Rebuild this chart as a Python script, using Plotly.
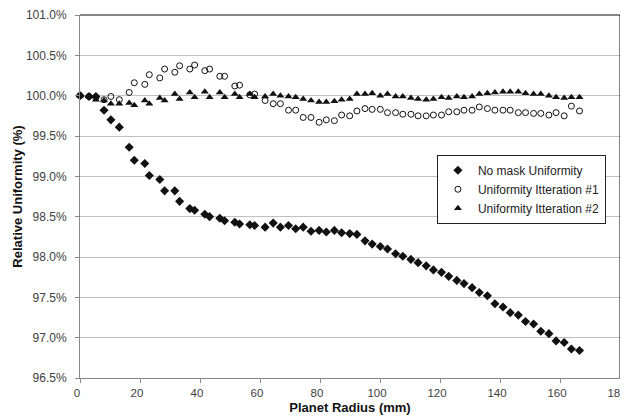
import plotly.graph_objects as go

radius_mm = [0, 3, 5.3, 8, 10.3, 13.1, 16.4, 18.1, 21.6, 23.1, 26.6, 28.2, 31.6, 33.2,
             36.6, 38.2, 41.6, 43.2, 46.6, 48.2, 51.6, 53.2, 56.6, 58.2,
             61.7, 64.4, 66.8, 69.5, 71.9, 74.4, 77.0, 79.7, 82.1, 84.8, 87.2, 89.9,
             92.3, 95.0, 97.4, 100.1, 102.5, 105.2, 107.6, 110.3, 112.7, 115.4, 117.8,
             120.5, 122.9, 125.6, 128.0, 130.7, 133.1, 135.8, 138.3, 141.0, 143.4,
             146.1, 148.5, 151.2, 153.6, 156.3, 158.7, 161.4, 163.8, 166.5]

no_mask = [100.00, 99.99, 99.99, 99.82, 99.70, 99.61, 99.36, 99.20, 99.16, 99.01,
           98.96, 98.82, 98.82, 98.69, 98.60, 98.58, 98.53, 98.50, 98.48, 98.45,
           98.43, 98.41, 98.40, 98.39,
           98.37, 98.42, 98.37, 98.39, 98.35, 98.37, 98.32, 98.33, 98.31, 98.33,
           98.30, 98.29, 98.28, 98.20, 98.16, 98.13, 98.10, 98.04, 98.01, 97.97,
           97.93, 97.89, 97.84, 97.81, 97.76, 97.71, 97.67, 97.62, 97.56, 97.52,
           97.42, 97.38, 97.31, 97.28, 97.20, 97.17, 97.08, 97.05, 96.96, 96.94,
           96.86, 96.84]

iter1 = [100.00, 99.99, 99.98, 99.95, 99.99, 99.95, 100.04, 100.16, 100.14, 100.26,
         100.22, 100.33, 100.29, 100.37, 100.33, 100.38, 100.31, 100.33, 100.24, 100.24,
         100.12, 100.13, 100.01, 100.02,
         99.94, 99.90, 99.90, 99.82, 99.82, 99.73, 99.73, 99.67, 99.70, 99.69,
         99.76, 99.75, 99.81, 99.84, 99.83, 99.83, 99.79, 99.79, 99.77, 99.77,
         99.75, 99.75, 99.76, 99.76, 99.80, 99.80, 99.82, 99.82, 99.86, 99.84,
         99.82, 99.82, 99.82, 99.79, 99.79, 99.78, 99.78, 99.76, 99.79, 99.75,
         99.87, 99.81]

iter2 = [100.00, 99.99, 99.95, 99.94, 99.90, 99.90, 99.91, 99.88, 99.94, 99.90,
         99.97, 99.94, 100.02, 99.96, 100.04, 99.98, 100.05, 99.98, 100.04, 99.98,
         100.02, 99.98, 100.02, 99.98,
         99.99, 100.02, 100.00, 99.99, 99.98, 99.96, 99.94, 99.92, 99.92, 99.93,
         99.95, 99.96, 100.02, 100.02, 100.03, 100.00, 100.02, 99.99, 99.99, 99.97,
         99.96, 99.95, 99.96, 99.98, 99.97, 99.99, 99.98, 99.99, 100.02, 100.03,
         100.04, 100.05, 100.05, 100.05, 100.03, 100.02, 100.02, 100.00, 99.98, 99.97,
         99.98, 99.98]

series_names = ["No mask Uniformity", "Uniformity Itteration #1", "Uniformity Itteration #2"]
y_ticks = [96.5, 97.0, 97.5, 98.0, 98.5, 99.0, 99.5, 100.0, 100.5, 101.0]
x_ticks = [0, 20, 40, 60, 80, 100, 120, 140, 160, 180]

fig = go.Figure()
fig.add_trace(go.Scatter(x=radius_mm, y=no_mask, mode="markers", name=series_names[0],
                         cliponaxis=False,
                         marker=dict(symbol="diamond", size=7, color="#111111")))
fig.add_trace(go.Scatter(x=radius_mm, y=iter1, mode="markers", name=series_names[1],
                         cliponaxis=False,
                         marker=dict(symbol="circle-open", size=6, color="#111111",
                                     line=dict(width=1, color="#111111"))))
fig.add_trace(go.Scatter(x=radius_mm, y=iter2, mode="markers", name=series_names[2],
                         cliponaxis=False,
                         marker=dict(symbol="triangle-up", size=7, color="#111111")))

font_family = "Liberation Sans, Arial, sans-serif"
# the page body has an 8px default margin; the plot area is placed to match the window
fig.update_layout(
    width=628, height=408,
    margin=dict(l=72, r=16, t=7, b=38, autoexpand=False),
    paper_bgcolor="white", plot_bgcolor="white",
    font=dict(family=font_family, size=12, color="#404040"),
    showlegend=True,
    legend=dict(x=0.661, y=0.615, xanchor="left", yanchor="top",
                bgcolor="white", bordercolor="#222222", borderwidth=1,
                font=dict(size=12, color="#222222")),
    xaxis=dict(range=[0, 180], tickvals=x_ticks, ticktext=[str(v) for v in x_ticks],
               automargin=False, ticklabeloverflow="allow", ticklabelshift=-3,
               tickfont=dict(size=11.5),
               showgrid=False, zeroline=False, showline=True, linecolor="#888888",
               linewidth=1, ticks="outside", ticklen=4, tickcolor="#888888",
               title=dict(text="<b>Planet Radius (mm)</b>", standoff=5,
                          font=dict(size=13, color="#111111"))),
    yaxis=dict(range=[96.5, 101.0], tickvals=y_ticks,
               ticktext=[f"{v:.1f}%" for v in y_ticks],
               automargin=False, ticklabeloverflow="allow",
               showgrid=True, gridcolor="#c0c0c0", gridwidth=1, zeroline=False,
               showline=True, linecolor="#888888", linewidth=1,
               ticks="outside", ticklen=4, tickcolor="#888888", ticklabelstandoff=6,
               title=dict(text="<b>Relative Uniformity (%)</b>", standoff=0,
                          font=dict(size=13, color="#111111"))),
)
fig.add_shape(type="line", xref="x domain", yref="y domain", x0=0, x1=1, y0=1, y1=1,
              line=dict(color="#111111", width=1))
fig.add_shape(type="line", xref="x domain", yref="y domain", x0=1, x1=1, y0=0, y1=1,
              line=dict(color="#111111", width=1))

fig.write_html("out.html")
